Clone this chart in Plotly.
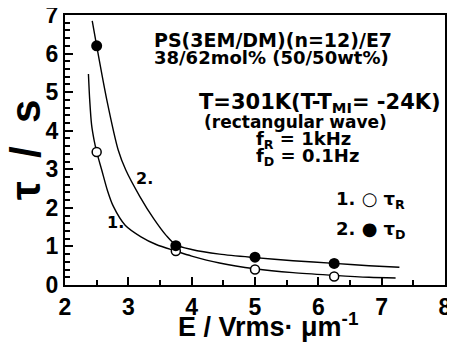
import plotly.graph_objects as go

# measured points
E_pts = [2.5, 3.75, 5.0, 6.25]
tau_R = [3.45, 0.88, 0.40, 0.22]
tau_D = [6.2, 1.02, 0.72, 0.56]

# fitted curves
fit1_E = [2.37, 2.39, 2.42, 2.46, 2.5, 2.58, 2.67, 2.76, 2.95, 3.2, 3.44, 3.75, 4.0, 4.44, 5.0, 5.6, 6.25, 6.8, 7.22]
fit1_t = [5.47, 4.8, 4.15, 3.75, 3.45, 2.98, 2.45, 2.05, 1.55, 1.25, 1.05, 0.88, 0.75, 0.57, 0.42, 0.32, 0.25, 0.2, 0.18]
fit2_E = [2.43, 2.5, 2.66, 2.84, 2.96, 3.18, 3.4, 3.6, 3.75, 4.0, 4.44, 5.0, 5.6, 6.25, 6.8, 7.28]
fit2_t = [6.85, 6.2, 4.8, 3.5, 2.98, 2.3, 1.72, 1.28, 1.04, 0.92, 0.8, 0.71, 0.63, 0.56, 0.5, 0.46]

x_ticks = [2, 3, 4, 5, 6, 7, 8]
y_ticks = [0, 1, 2, 3, 4, 5, 6, 7]

FONT = "Liberation Sans"
TFONT = "DejaVu Sans"
fig = go.Figure()
fig.add_trace(go.Scatter(x=fit1_E, y=fit1_t, mode="lines", line=dict(color="black", width=1.4, shape="spline", smoothing=0.8), showlegend=False))
fig.add_trace(go.Scatter(x=fit2_E, y=fit2_t, mode="lines", line=dict(color="black", width=1.4, shape="spline", smoothing=0.8), showlegend=False))
fig.add_trace(go.Scatter(x=E_pts, y=tau_R, mode="markers",
                         marker=dict(symbol="circle", size=9, color="white", line=dict(color="black", width=1.5)), showlegend=False))
fig.add_trace(go.Scatter(x=E_pts, y=tau_D, mode="markers",
                         marker=dict(symbol="circle", size=11, color="black"), showlegend=False))

axis_common = dict(showline=True, linecolor="black", linewidth=2, mirror=True,
                   ticks="inside", ticklen=8, tickwidth=2, tickcolor="black",
                   showgrid=False, zeroline=False, automargin=False, ticklabeloverflow="allow",
                   tickfont=dict(family=FONT, size=23, color="black", weight="bold"))
fig.update_xaxes(range=[2, 8], tickvals=x_ticks, ticktext=[str(v) for v in x_ticks],
                 minor=dict(ticks="inside", dtick=0.5, ticklen=5, tickwidth=2, tickcolor="black"),
                 **axis_common)
fig.update_yaxes(range=[0, 7], tickvals=y_ticks, ticktext=[str(v) for v in y_ticks],
                 minor=dict(ticks="inside", dtick=0.2, ticklen=5, tickwidth=1.5, tickcolor="black"),
                 **axis_common)

def ann(x, y, text, size, xanchor="left", xref="x", yref="y", textangle=0, yanchor="middle", family=TFONT):
    fig.add_annotation(x=x, y=y, xref=xref, yref=yref, text=text, showarrow=False,
                       xanchor=xanchor, yanchor=yanchor, textangle=textangle,
                       font=dict(family=family, size=size, color="black", weight="bold"))

ann(3.37, 6.35, "PS(3EM/DM)(n=12)/E7", 19)
ann(3.37, 5.9, "38/62mol% (50/50wt%)", 18)
ann(4.08, 4.72, "T=301K(T-T<sub>MI</sub>= -24K)", 21)
ann(4.17, 4.22, "(rectangular wave)", 17)
ann(4.99, 3.76, "f<sub>R</sub> = 1kHz", 18)
ann(4.99, 3.32, "f<sub>D</sub> = 0.1Hz", 18)
ann(6.25, 2.2, "1. ○ τ<sub>R</sub>", 18)
ann(6.25, 1.42, "2. ● τ<sub>D</sub>", 18)
ann(3.26, 2.77, "2.", 16, xanchor="center")
ann(2.79, 1.63, "1.", 16, xanchor="center")

# page has an 8px body margin: figure placed so the plot area lands at x 65..445, y 15..285 px of the window
W, H = 447, 334
L, T = 57, 7
R = W - (445 - 8)
B = H - (285 - 8)
PW, PH = W - L - R, H - T - B

# axis titles (paper coords relative to plot area)
ann((25 - 65) / PW, (285 - 150) / PH, "τ\u00a0\u00a0/\u00a0\u00a0s", 42, xanchor="center", xref="paper", yref="paper", textangle=-90, family=FONT)
ann((268 - 65) / PW, (285 - 325) / PH, "E / Vrms· μm<sup>-1</sup>", 27, xanchor="center", xref="paper", yref="paper", family=FONT)

fig.update_layout(width=W, height=H, margin=dict(l=L, r=R, t=T, b=B),
                  plot_bgcolor="white", paper_bgcolor="white")
fig.write_html("out.html")
